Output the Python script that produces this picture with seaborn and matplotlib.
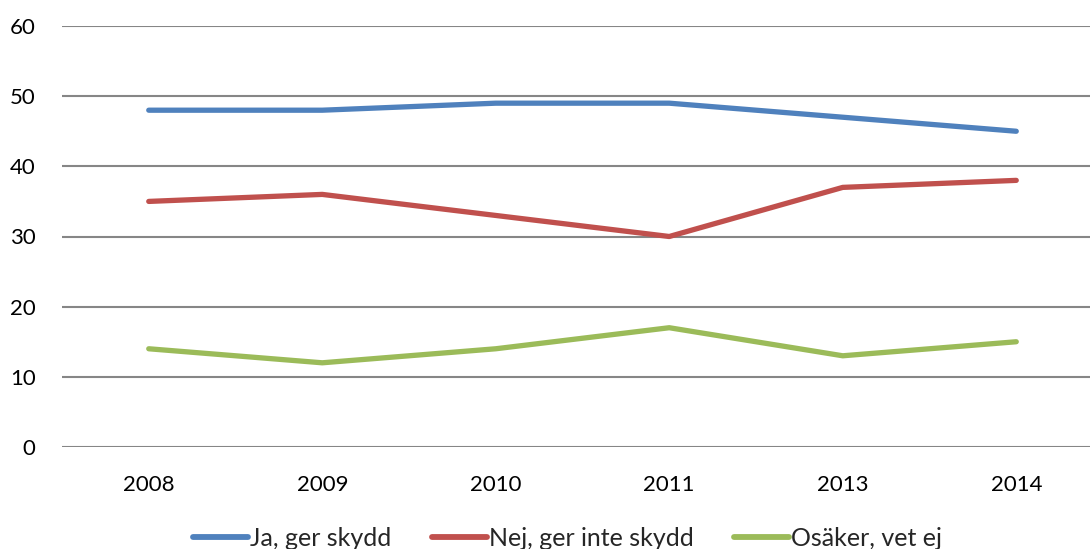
import matplotlib
matplotlib.use("Agg")
import matplotlib.pyplot as plt
import seaborn as sns
import pandas as pd
from matplotlib.lines import Line2D

years = ["2008", "2009", "2010", "2011", "2013", "2014"]
ja = [48, 48, 49, 49, 47, 45]
nej = [35, 36, 33, 30, 37, 38]
osaker = [14, 12, 14, 17, 13, 15]
series_names = ["Ja, ger skydd", "Nej, ger inte skydd", "Osäker, vet ej"]
colors = ["#4F81BD", "#C0504D", "#9BBB59"]
yticks = [0, 10, 20, 30, 40, 50, 60]

sns.set_theme(style="white")
plt.rcParams["font.family"] = ["Lato", "DejaVu Sans"]

df = pd.DataFrame({
    "year": years * 3,
    "value": ja + nej + osaker,
    "series": [series_names[0]] * 6 + [series_names[1]] * 6 + [series_names[2]] * 6,
})

W, H = 1090, 549
fig = plt.figure(figsize=(W / 100, H / 100), dpi=100)
left, right, top, bottom = 62, 1103, 26, 447
ax = fig.add_axes([left / W, (H - bottom) / H, (right - left) / W, (bottom - top) / H])

sns.lineplot(data=df, x="year", y="value", hue="series", palette=colors,
             linewidth=3.8, ax=ax, legend=False, sort=False,
             solid_capstyle="round")

ax.set_xlim(-0.5, 5.5)
ax.set_ylim(0, 60)
ax.set_yticks(yticks)
ax.set_yticklabels([str(v) for v in yticks])
for v in yticks:
    ax.axhline(v, color="#868686", linewidth=1.5, zorder=0)
for s in ax.spines.values():
    s.set_visible(False)
ax.tick_params(axis="both", length=0, labelsize=16, colors="black")
ax.tick_params(axis="y", pad=19)
ax.tick_params(axis="x", pad=20)
ax.set_xlabel("")
ax.set_ylabel("")

handles = [Line2D([0], [0], color=c, linewidth=4.2, solid_capstyle="round") for c in colors]
fig.legend(handles, series_names, loc="center", bbox_to_anchor=(0.5206, 0.019),
           ncol=3, frameon=False, fontsize=18, handlelength=2.2,
           handletextpad=0.1, columnspacing=1.6)

fig.savefig("out.png", dpi=100)
